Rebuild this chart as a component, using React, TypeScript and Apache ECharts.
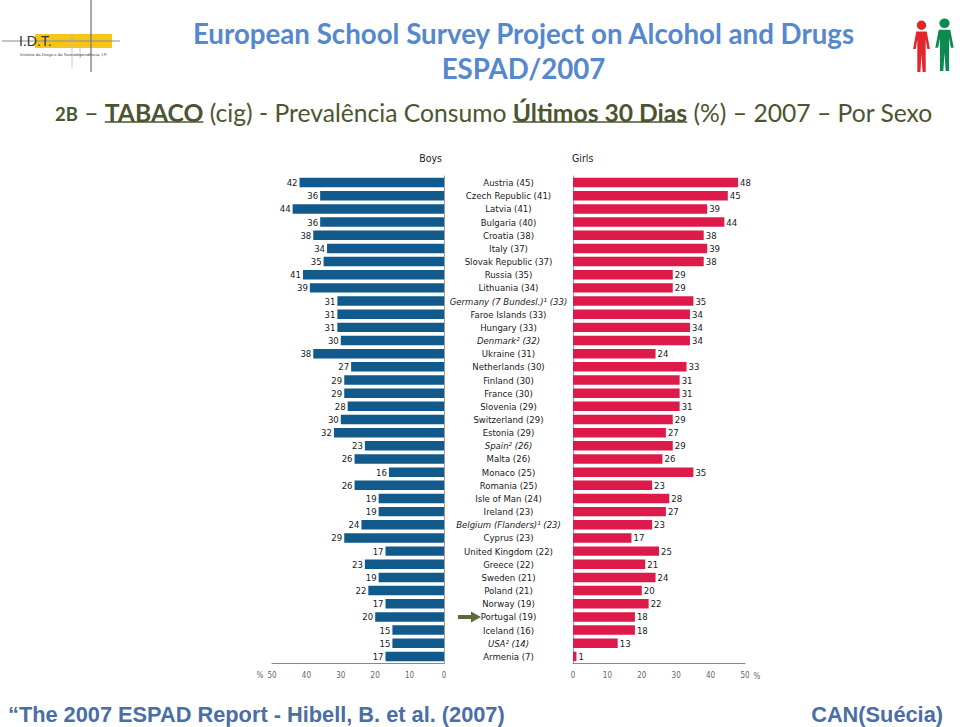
import { useEffect, useRef } from "react";
import * as echarts from "echarts";

// ---------- data ----------
const countries = [
  "Austria", "Czech Republic", "Latvia", "Bulgaria", "Croatia", "Italy", "Slovak Republic",
  "Russia", "Lithuania", "Germany (7 Bundesl.)", "Faroe Islands", "Hungary", "Denmark",
  "Ukraine", "Netherlands", "Finland", "France", "Slovenia", "Switzerland", "Estonia",
  "Spain", "Malta", "Monaco", "Romania", "Isle of Man", "Ireland", "Belgium (Flanders)",
  "Cyprus", "United Kingdom", "Greece", "Sweden", "Poland", "Norway", "Portugal",
  "Iceland", "USA", "Armenia",
];
const totals = [45, 41, 41, 40, 38, 37, 37, 35, 34, 33, 33, 33, 32, 31, 30, 30, 30, 29, 29, 29, 26, 26, 25, 25, 24, 23, 23, 23, 22, 22, 21, 21, 19, 19, 16, 14, 7];
const boys = [42, 36, 44, 36, 38, 34, 35, 41, 39, 31, 31, 31, 30, 38, 27, 29, 29, 28, 30, 32, 23, 26, 16, 26, 19, 19, 24, 29, 17, 23, 19, 22, 17, 20, 15, 15, 17];
const girls = [48, 45, 39, 44, 38, 39, 38, 29, 29, 35, 34, 34, 34, 24, 33, 31, 31, 31, 29, 27, 29, 26, 35, 23, 28, 27, 23, 17, 25, 21, 24, 20, 22, 18, 18, 13, 1];
const notes = ["", "", "", "", "", "", "", "", "", "¹", "", "", "²", "", "", "", "", "", "", "", "²", "", "", "", "", "", "¹", "", "", "", "", "", "", "", "", "²", ""];
const italicCountries = ["Germany (7 Bundesl.)", "Denmark", "Spain", "Belgium (Flanders)", "USA"];
const highlighted = "Portugal";
const axisTicks = { min: 0, max: 50, interval: 10 };

const titleLine1 = "European School Survey Project on Alcohol and Drugs";
const titleLine2 = "ESPAD/2007";
const subtitleParts = [
  { text: "2B", bold: true, underline: false, small: true },
  { text: " – ", bold: false, underline: false, small: false },
  { text: "TABACO", bold: true, underline: true, small: false },
  { text: " (cig) - Prevalência Consumo ", bold: false, underline: false, small: false },
  { text: "Últimos 30 Dias", bold: true, underline: true, small: false },
  { text: " (%) – 2007 – Por Sexo", bold: false, underline: false, small: false },
];
const footerLeft = "“The 2007 ESPAD Report - Hibell, B. et al. (2007)";
const footerRight = "CAN(Suécia)";
const logoText = "I.D.T.";
const logoSub = "Instituto da Droga e da Toxicodependência, I.P.";

// ---------- styling ----------
const FONT = "'Liberation Sans Narrow', 'DejaVu Sans Condensed', 'Open Sans', sans-serif";
const TITLE_FONT = "Lato, 'Open Sans', sans-serif";
const FOOT_FONT = "'Liberation Sans', Arial, sans-serif";
const BOY_COLOR = "#12598C";
const GIRL_COLOR = "#DE1A4B";

const personPath =
  "M14.5 5 A4.5 4.5 0 1 1 5.5 5 A4.5 4.5 0 1 1 14.5 5 Z M5 11 L15 11 L18 28 L15.5 28 L14 19 L14 50 L11 50 L10 33 L9 50 L6 50 L6 19 L4.5 28 L2 28 Z";
echarts.graphic.registerShape("logo", echarts.graphic.extendPath(personPath, {}));

function measure(text: string, font: string) {
  const c = document.createElement("canvas").getContext("2d")!;
  c.font = font;
  return c.measureText(text).width;
}

export default function App() {
  const ref = useRef<HTMLDivElement>(null);
  useEffect(() => {
    document.body.style.margin = "0";
    const chart = echarts.init(ref.current!, null, { renderer: "svg" });

    const plotTop = 176;
    const plotH = 487;
    const plotW = 172;
    const boysLeft = 272;
    const girlsLeft = 573;

    chart.setOption({
      animation: false,
      grid: [
        { left: boysLeft, top: plotTop, width: plotW, height: plotH },
        { left: girlsLeft, top: plotTop, width: plotW, height: plotH },
      ],
      xAxis: [0, 1].map((g) => ({
        type: "value",
        gridIndex: g,
        inverse: g === 0,
        min: axisTicks.min,
        max: axisTicks.max,
        interval: axisTicks.interval,
        axisLine: { show: true, lineStyle: { color: "#8a8a8a", width: 1.2 } },
        axisTick: { show: false },
        splitLine: { show: false },
        axisLabel: { fontSize: 8, color: "#666", margin: 8, fontFamily: FONT },
      })),
      yAxis: [
        {
          type: "category",
          gridIndex: 0,
          position: "right",
          inverse: true,
          data: countries,
          axisLine: { show: true, lineStyle: { color: "#9a9a9a", width: 1 } },
          axisTick: { show: false },
          axisLabel: {
            interval: 0,
            align: "center",
            margin: 64.5,
            fontSize: 9.5,
            color: "#1a1a1a",
            fontFamily: FONT,
            formatter: (v: string, i: number) => {
              const lab = `${v}${notes[i]} (${totals[i]})`;
              return italicCountries.includes(v) ? `{i|${lab}}` : lab;
            },
            rich: { i: { fontStyle: "italic", fontSize: 9.5, color: "#1a1a1a", fontFamily: FONT } },
          },
        },
        {
          type: "category",
          gridIndex: 1,
          position: "left",
          inverse: true,
          data: countries,
          axisLine: { show: true, lineStyle: { color: "#9a9a9a", width: 1 } },
          axisTick: { show: false },
          axisLabel: { show: false },
        },
      ],
      series: [
        {
          name: "Boys",
          type: "bar",
          xAxisIndex: 0,
          yAxisIndex: 0,
          data: boys,
          barCategoryGap: "28%",
          itemStyle: { color: BOY_COLOR },
          label: { show: true, position: "left", distance: 2, fontSize: 9.5, color: "#1a1a1a", fontFamily: FONT },
        },
        {
          name: "Girls",
          type: "bar",
          xAxisIndex: 1,
          yAxisIndex: 1,
          data: girls,
          barCategoryGap: "28%",
          itemStyle: { color: GIRL_COLOR },
          label: { show: true, position: "right", distance: 2, fontSize: 9.5, color: "#1a1a1a", fontFamily: FONT },
        },
      ],
    });

    const g: any[] = [];

    // titles
    const t1w = measure(titleLine1, `bold 24px ${TITLE_FONT}`);
    const tSize = (24 * 663) / t1w;
    g.push({ type: "text", x: 523.5, y: 33, style: { text: titleLine1, font: `bold ${tSize}px ${TITLE_FONT}`, fill: "#5588CC", align: "center", verticalAlign: "middle" } });
    g.push({ type: "text", x: 523.5, y: 68, style: { text: titleLine2, font: `bold ${tSize}px ${TITLE_FONT}`, fill: "#5588CC", align: "center", verticalAlign: "middle" } });

    // subtitle with underline pieces
    const fontOf = (p: any, s: number) => `${p.bold ? "bold " : ""}${p.small ? s * 0.75 : s}px ${TITLE_FONT}`;
    const total = subtitleParts.reduce((a, p) => a + measure(p.text, fontOf(p, 22)), 0);
    const sSize = (22 * 878) / total;
    let sx = 55;
    const subY = 112;
    const subColor = "#4B5530";
    subtitleParts.forEach((p) => {
      const f = fontOf(p, sSize);
      const w = measure(p.text, f);
      g.push({ type: "text", x: sx, y: subY + (p.small ? 1.5 : 0), style: { text: p.text, font: f, fill: subColor, align: "left", verticalAlign: "middle" } });
      if (p.underline) {
        g.push({ type: "line", shape: { x1: sx, y1: subY + 10, x2: sx + w, y2: subY + 10 }, style: { stroke: subColor, lineWidth: 1.5 } });
      }
      sx += w;
    });

    // headings
    g.push({ type: "text", x: 442, y: 158, style: { text: "Boys", font: `10.5px ${FONT}`, fill: "#222", align: "right", verticalAlign: "middle" } });
    g.push({ type: "text", x: 572, y: 158, style: { text: "Girls", font: `10.5px ${FONT}`, fill: "#222", align: "left", verticalAlign: "middle" } });
    g.push({ type: "text", x: 260, y: 675, style: { text: "%", font: `8px ${FONT}`, fill: "#666", align: "center", verticalAlign: "middle" } });
    g.push({ type: "text", x: 757, y: 676, style: { text: "%", font: `8px ${FONT}`, fill: "#666", align: "center", verticalAlign: "middle" } });

    // footer (condensed by horizontal scaling)
    const footFont = `bold 22px ${FOOT_FONT}`;
    const fScale = 497 / measure(footerLeft, footFont);
    g.push({ type: "text", x: 8, y: 714, scaleX: fScale, style: { text: footerLeft, font: footFont, fill: "#4A6EA5", align: "left", verticalAlign: "middle" } });
    g.push({ type: "text", x: 943, y: 714, scaleX: fScale, style: { text: footerRight, font: footFont, fill: "#4A6EA5", align: "right", verticalAlign: "middle" } });

    // left logo
    g.push({ type: "rect", shape: { x: 35, y: 34, width: 77, height: 14 }, style: { fill: "#F6C51A" } });
    g.push({ type: "line", shape: { x1: 2, y1: 41, x2: 120, y2: 41 }, style: { stroke: "#8c8c8c", lineWidth: 1 } });
    g.push({ type: "line", shape: { x1: 91, y1: 0, x2: 91, y2: 72 }, style: { stroke: "#7a7a7a", lineWidth: 1.3 } });
    g.push({ type: "line", shape: { x1: 72, y1: 33, x2: 72, y2: 67 }, style: { stroke: "#bbbbbb", lineWidth: 0.8 } });
    g.push({ type: "line", shape: { x1: 80, y1: 47, x2: 80, y2: 58 }, style: { stroke: "#bbbbbb", lineWidth: 0.8 } });
    g.push({ type: "text", x: 19, y: 41, style: { text: logoText, font: `14px 'Liberation Sans', sans-serif`, fill: "#333", align: "left", verticalAlign: "middle" } });
    g.push({ type: "text", x: 20, y: 54, style: { text: logoSub, font: `4.2px 'Liberation Sans', sans-serif`, fill: "#444", align: "left", verticalAlign: "middle" } });

    // right logo
    g.push({ type: "logo", x: 911, y: 20, scaleX: 1.05, scaleY: 1.04, style: { fill: "#E3262E" } });
    g.push({ type: "logo", x: 933, y: 18, scaleX: 1.15, scaleY: 1.06, style: { fill: "#0E8A4F" } });

    // arrow pointing at highlighted country
    const py = chart.convertToPixel({ yAxisIndex: 0 }, highlighted) as number;
    g.push({
      type: "polygon",
      shape: { points: [[458, py - 2], [471, py - 2], [471, py - 5.5], [481, py], [471, py + 5.5], [471, py + 2], [458, py + 2]] },
      style: { fill: "#5B6B35" },
    });

    chart.setOption({ graphic: g });

    return () => chart.dispose();
  }, []);
  return <div ref={ref} style={{ width: 960, height: 727 }} />;
}
